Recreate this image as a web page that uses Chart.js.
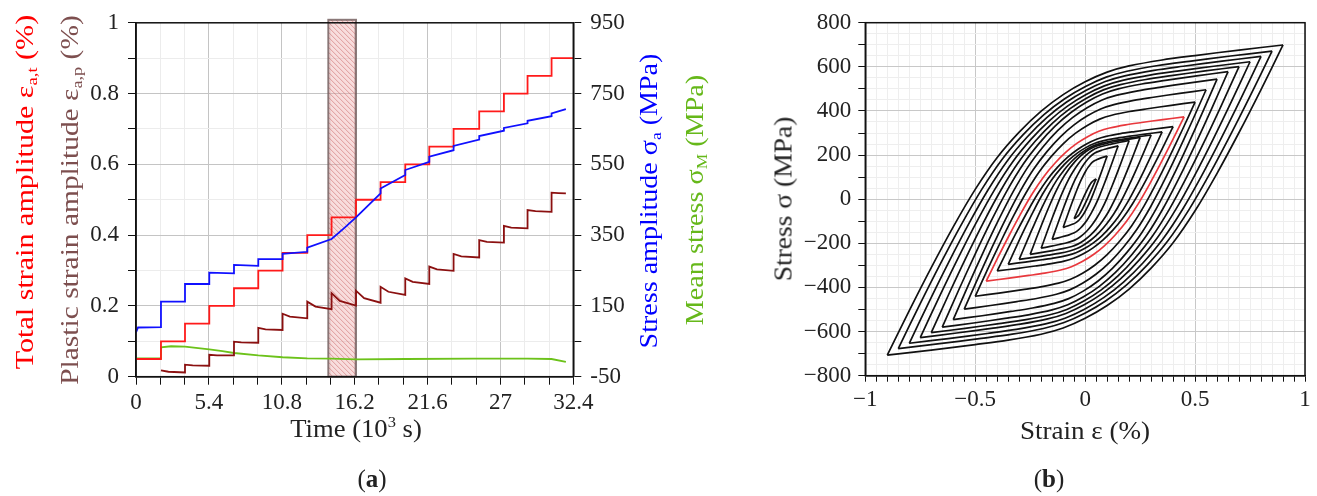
<!DOCTYPE html>
<html>
<head>
<meta charset="utf-8">
<script src="https://cdn.jsdelivr.net/npm/chart.js@4.4.0/dist/chart.umd.min.js"></script>
<style>
  body { margin: 0; width: 1317px; height: 496px; background: #fff; position: relative; overflow: hidden;
         font-family: "Liberation Serif", serif; color: #222; }
  canvas { position: absolute; top: 0; }
  .t { position: absolute; white-space: nowrap; font-size: 25px; line-height: 1; transform: translate(-50%, -50%); }
  sub { font-size: 0.62em; vertical-align: -0.3em; line-height: 0; }
  sup { font-size: 0.62em; vertical-align: 0.6em; line-height: 0; }
</style>
</head>
<body>
<canvas id="chartA" width="760" height="440" style="left:0"></canvas>
<canvas id="chartB" width="557" height="440" style="left:760px"></canvas>

<div class="t r" data-len="355" style="left:24px;top:192px;color:#ff0000">Total strain amplitude ε<sub>a,t</sub> (%)</div>
<div class="t r" data-len="370" style="left:69px;top:200px;color:#7d4f4f">Plastic strain amplitude ε<sub>a,p</sub> (%)</div>
<div class="t r" data-len="295" style="left:648px;top:201px;color:#0000ff">Stress amplitude σ<sub>a</sub> (MPa)</div>
<div class="t r" data-len="250" style="left:694px;top:200px;color:#66b81a">Mean stress σ<sub>M</sub> (MPa)</div>
<div class="t" data-len="132" style="left:356px;top:428px">Time (10<sup>3</sup> s)</div>
<div class="t" style="left:372px;top:478px">(<b>a</b>)</div>
<div class="t r" data-len="165" style="left:783px;top:199px">Stress σ (MPa)</div>
<div class="t" data-len="130" style="left:1085px;top:430px">Strain ε (%)</div>
<div class="t" style="left:1049px;top:478px">(<b>b</b>)</div>

<script>
// ---- panel (a): time series ----
const strainStepTime = [0, 1.85, 3.63, 5.43, 7.26, 9.06, 10.86, 12.69, 14.49, 16.3, 18.12, 19.95, 21.73, 23.53, 25.43, 27.26, 29.01, 30.79, 32.4];
const totalStrainAmp = [0.05, 0.1, 0.15, 0.2, 0.25, 0.3, 0.35, 0.4, 0.45, 0.5, 0.55, 0.6, 0.65, 0.7, 0.75, 0.8, 0.85, 0.9, 0.9];

const plasticTime = [1.85, 2.4, 3.63, 3.63, 4.2, 5.43, 5.43, 6.0, 7.26, 7.26, 7.8, 9.06, 9.06, 9.6, 10.86,
  10.86, 11.4, 12.69, 12.69, 13.3, 14.49, 14.49, 15.1, 16.3, 16.3, 16.9, 18.12, 18.12, 18.7, 19.95,
  19.95, 20.5, 21.73, 21.73, 22.3, 23.53, 23.53, 24.1, 25.43, 25.43, 26.0, 27.26, 27.26, 27.8, 29.01,
  29.01, 29.6, 30.79, 30.79, 31.3, 31.85];
const plasticAmp = [0.018, 0.014, 0.012, 0.034, 0.032, 0.031, 0.062, 0.060, 0.060, 0.099, 0.097, 0.096, 0.138, 0.134, 0.132,
  0.178, 0.170, 0.165, 0.212, 0.198, 0.191, 0.236, 0.214, 0.201, 0.243, 0.222, 0.209, 0.254, 0.240, 0.231,
  0.278, 0.268, 0.262, 0.311, 0.303, 0.299, 0.347, 0.340, 0.337, 0.386, 0.381, 0.379, 0.426, 0.421, 0.419,
  0.471, 0.468, 0.466, 0.520, 0.519, 0.518];

const stressTime = [0, 0.15, 1.85, 1.85, 3.63, 3.63, 5.43, 5.43, 7.26, 7.26, 9.06, 9.06, 10.86, 10.86, 12.69, 12.69,
  14.49, 15.4, 16.3, 18.12, 18.12, 19.95, 19.95, 21.73, 21.73, 23.53, 23.53, 25.43, 25.43, 27.26, 27.26,
  29.01, 29.01, 30.79, 30.79, 31.85];
const stressAmp = [75, 89, 90, 162, 162, 212, 212, 244, 242, 266, 263, 282, 282, 297, 303, 315,
  339, 369, 400, 468, 482, 520, 534, 557, 572, 590, 602, 620, 630, 645, 653,
  666, 673, 686, 694, 706];

const meanTime = [0, 1.84, 1.86, 2.6, 3.63, 5.43, 6.4, 7.26, 9.06, 10.86, 12.69, 14.49, 16.3, 20, 25, 29, 30.79, 31.85];
const meanStress = [2, 2, 33, 36, 35, 27, 22, 17, 10, 5, 2, 1, -1, 0, 1, 1, 0, -8];

const hatchStart = 14.25, hatchEnd = 16.3;

// ---- panel (b): hysteresis loops ----
const loopStrainAmp = [0.05, 0.1, 0.15, 0.2, 0.25, 0.3, 0.35, 0.4, 0.45, 0.5, 0.55, 0.6, 0.65, 0.7, 0.75, 0.8, 0.85, 0.9];
const loopStressAmp = [90, 162, 212, 244, 265, 282, 300, 327, 372, 440, 497, 545, 579, 603, 625, 650, 674, 703];
const loopMeanStress = [2, 34, 30, 22, 15, 9, 5, 2, 1, 0, -1, -1, -1, -2, -2, -3, -3, -4];
// half width of each loop at its mean stress
const loopHalfWidth = [0.01, 0.04, 0.07, 0.105, 0.14, 0.17, 0.2, 0.225, 0.25, 0.28, 0.31, 0.34, 0.37, 0.4, 0.43, 0.46, 0.49, 0.52];
const highlightAmp = 0.45;
// upper branch of the outermost loop
const outerBranchStrain = [-0.9, -0.8, -0.7, -0.6, -0.5, -0.4, -0.3, -0.2, -0.1, 0, 0.1, 0.2, 0.35, 0.5, 0.7, 0.9];
const outerBranchStress = [-707, -505, -310, -125, 45, 190, 305, 400, 475, 533, 577, 605, 632, 652, 677, 700];

Chart.defaults.font.family = '"Liberation Serif", serif';
Chart.defaults.font.size = 23;
Chart.defaults.color = '#222';

const frame = {
  id: 'frame',
  afterDraw(chart) {
    const { ctx, chartArea: a } = chart;
    ctx.save();
    ctx.strokeStyle = '#111';
    ctx.lineWidth = 1.5;
    ctx.strokeRect(a.left, a.top, a.right - a.left, a.bottom - a.top);
    ctx.restore();
  }
};

const hatch = {
  id: 'hatch',
  beforeDatasetsDraw(chart) {
    if (!chart.scales.y2) return;
    const { ctx, chartArea: a, scales } = chart;
    const x0 = scales.x.getPixelForValue(hatchStart);
    const x1 = scales.x.getPixelForValue(hatchEnd);
    const top = a.top - 3, bot = a.bottom;
    const w = x1 - x0;
    ctx.save();
    ctx.fillStyle = 'rgba(238,170,170,0.4)';
    ctx.fillRect(x0, top, w, bot - top);
    ctx.beginPath();
    ctx.rect(x0, top, w, bot - top);
    ctx.clip();
    ctx.strokeStyle = 'rgba(205,110,110,0.6)';
    ctx.lineWidth = 1;
    ctx.beginPath();
    for (let y = top - w; y < bot + w; y += 5) {
      ctx.moveTo(x0, y);
      ctx.lineTo(x1, y + w);
    }
    ctx.stroke();
    ctx.restore();
    ctx.save();
    ctx.strokeStyle = 'rgba(110,90,90,0.8)';
    ctx.lineWidth = 2;
    ctx.strokeRect(x0, top, w, bot - top);
    ctx.restore();
  }
};

const pts = (xs, ys) => xs.map((x, i) => ({ x: x, y: ys[i] }));
const line = (data, color, axis, extra) => Object.assign({
  data: data, borderColor: color, borderWidth: 1.8, pointRadius: 0, showLine: true, yAxisID: axis
}, extra || {});

new Chart(document.getElementById('chartA'), {
  type: 'scatter',
  data: {
    datasets: [
      line(pts(stressTime, stressAmp), '#1010ff', 'y2'),
      line(pts(strainStepTime, totalStrainAmp), '#ff1a1a', 'y', { stepped: true }),
      line(pts(plasticTime, plasticAmp), '#8b1010', 'y'),
      line(pts(meanTime, meanStress), '#6cc21a', 'y2')
    ]
  },
  options: {
    responsive: false,
    animation: false,
    events: [],
    layout: { padding: { top: 22.7, left: 0, right: 0, bottom: 0 } },
    plugins: { legend: { display: false }, tooltip: { enabled: false } },
    scales: {
      x: {
        min: 0, max: 32.4,
        afterFit: s => { s.height = 63.3; },
        ticks: {
          stepSize: 1.8, autoSkip: false, maxRotation: 0, padding: 4, maxTicksLimit: 100,
          callback: (v, i) => i % 3 === 0 ? String(Number(v.toFixed(1))) : ''
        },
        grid: {
          tickLength: 8, tickColor: '#111',
          color: c => c.index % 3 === 0 ? '#c4c4c4' : '#ececec'
        },
        border: { color: '#111', width: 1.5 }
      },
      y: {
        min: 0, max: 1,
        afterFit: s => { s.width = 136; },
        ticks: {
          stepSize: 0.1, autoSkip: false, padding: 9, maxTicksLimit: 100,
          callback: (v) => Math.round(v * 10) % 2 === 0 ? String(Number(v.toFixed(1))) : ''
        },
        grid: {
          tickLength: 8, tickColor: '#111',
          color: c => Math.round(c.tick.value * 10) % 2 === 0 ? '#c4c4c4' : '#ececec'
        },
        border: { color: '#111', width: 1.5 }
      },
      y2: {
        position: 'right',
        min: -50, max: 950,
        afterFit: s => { s.width = 186.7; },
        ticks: {
          stepSize: 100, autoSkip: false, padding: 9, maxTicksLimit: 100,
          callback: (v, i) => i % 2 === 0 ? String(v) : ''
        },
        grid: { drawOnChartArea: false, tickLength: 8, tickColor: '#111' },
        border: { color: '#111', width: 1.5 }
      }
    }
  },
  plugins: [hatch, frame]
});

// build loop branches from the tip values and the outer-loop branch shape
const nB = outerBranchStrain.length - 1;
const outerU = outerBranchStrain.map(e => (e - outerBranchStrain[0]) / (outerBranchStrain[nB] - outerBranchStrain[0]));
const outerG = outerBranchStress.map(s => (s - outerBranchStress[0]) / (outerBranchStress[nB] - outerBranchStress[0]));
const nL = loopStrainAmp.length - 1;
const pOuter = loopHalfWidth[nL] / loopStrainAmp[nL];

const loopSets = [];
loopStrainAmp.forEach((ea, i) => {
  const sa = loopStressAmp[i], sm = loopMeanStress[i];
  const q = (loopHalfWidth[i] / ea) / pOuter;
  const upper = outerU.map((u, k) => ({
    x: -ea + 2 * ea * ((1 - q) * outerG[k] + q * u),
    y: sm - sa + 2 * sa * outerG[k]
  }));
  const lower = upper.map(p => ({ x: -p.x, y: 2 * sm - p.y })).reverse();
  const red = Math.abs(ea - highlightAmp) < 1e-6;
  [upper, lower].forEach(d => {
    const ds = {
      data: d, showLine: true, pointRadius: 0, borderWidth: 1.7,
      borderColor: red ? '#e8383d' : '#111', tension: 0.3
    };
    if (red) loopSets.unshift(ds); else loopSets.push(ds);
  });
});

const minus = v => String(v).replace('-', '\u2212');

new Chart(document.getElementById('chartB'), {
  type: 'scatter',
  data: { datasets: loopSets },
  options: {
    responsive: false,
    animation: false,
    events: [],
    layout: { padding: { top: 22.7, left: 0, right: 12, bottom: 0 } },
    plugins: { legend: { display: false }, tooltip: { enabled: false } },
    scales: {
      x: {
        min: -1, max: 1,
        afterFit: s => { s.height = 64.3; },
        ticks: {
          stepSize: 0.05, autoSkip: false, maxRotation: 0, padding: 4, maxTicksLimit: 100,
          callback: v => Math.round(v * 100) % 50 === 0 ? minus(Number(v.toFixed(2))) : ''
        },
        grid: {
          tickLength: 6, tickColor: '#111',
          color: c => Math.round(c.tick.value * 100) % 50 === 0 ? '#c8c8c8' : '#eeeeee'
        },
        border: { color: '#111', width: 1.5 }
      },
      y: {
        min: -800, max: 800,
        afterFit: s => { s.width = 105.3; },
        ticks: {
          stepSize: 50, autoSkip: false, padding: 7, maxTicksLimit: 100,
          callback: v => Math.round(v) % 200 === 0 ? minus(v) : ''
        },
        grid: {
          tickLength: 7,
          tickColor: c => Math.round(c.tick.value) % 100 === 0 ? '#111' : 'rgba(0,0,0,0)',
          color: c => Math.round(c.tick.value) % 200 === 0 ? '#c8c8c8' : '#eeeeee'
        },
        border: { color: '#111', width: 1.5 }
      }
    }
  },
  plugins: [frame]
});

// stretch the axis titles to the lengths they have in the figure
document.querySelectorAll('.t[data-len]').forEach(el => {
  const s = Number(el.dataset.len) / el.offsetWidth;
  const rot = el.classList.contains('r') ? ' rotate(-90deg)' : '';
  el.style.transform = 'translate(-50%, -50%)' + rot + ' scaleX(' + s.toFixed(3) + ')';
});
</script>
</body>
</html>
